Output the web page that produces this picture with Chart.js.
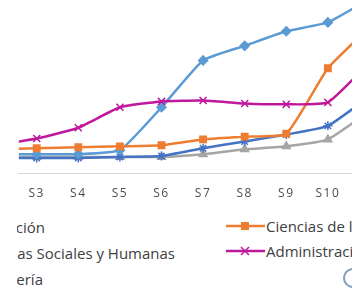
<!DOCTYPE html>
<html>
<head>
<meta charset="utf-8">
<script src="https://cdn.jsdelivr.net/npm/chart.js@4.4.1/dist/chart.umd.min.js"></script>
<style>
  html, body { margin:0; padding:0; background:#fff; }
  body { width:352px; height:293px; overflow:hidden; position:relative; font-family:"Open Sans", sans-serif; }
  #wrap { position:absolute; left:17px; top:0; width:335px; height:293px; overflow:hidden; }
  #cv { position:absolute; left:0; top:0; }
  .lg { position:absolute; font-size:15px; color:#404040; white-space:nowrap; line-height:18px; }
  .rt { text-align:right; }
  .mk { position:absolute; }
  #circ { position:absolute; left:326px; top:268px; width:16px; height:16px; border:2.5px solid #7f9cc0; border-radius:50%; }
</style>
</head>
<body>
<div id="wrap">
  <canvas id="cv" width="335" height="214"></canvas>
  <div class="lg rt" style="right:307px; top:218px;">Educación</div>
  <div class="lg rt" style="right:177px; top:244px;">Ciencias Sociales y Humanas</div>
  <div class="lg rt" style="right:309px; top:270px;">Ingeniería</div>
  <svg class="mk" style="left:208px; top:218px;" width="42" height="16">
    <line x1="1" y1="8" x2="40" y2="8" stroke="#ED7D31" stroke-width="2.5"/>
    <rect x="16" y="4" width="8" height="8" fill="#ED7D31"/>
  </svg>
  <div class="lg" style="left:249px; top:217px;">Ciencias de la Salud</div>
  <svg class="mk" style="left:208px; top:243px;" width="42" height="16">
    <line x1="1" y1="8" x2="40" y2="8" stroke="#C0189C" stroke-width="2.5"/>
    <line x1="16" y1="4" x2="24" y2="12" stroke="#C0189C" stroke-width="1.5"/>
    <line x1="16" y1="12" x2="24" y2="4" stroke="#C0189C" stroke-width="1.5"/>
  </svg>
  <div class="lg" style="left:249px; top:242px;">Administración</div>
  <div id="circ"></div>
</div>
<script>
const categories = ["S2","S3","S4","S5","S6","S7","S8","S9","S10","S11"];
const educacion  = [11.2, 11.2, 11.2, 13.5, 38.2, 65.2, 73.6, 82.0, 87.1, 100.6];
const salud      = [14.0, 14.6, 15.2, 15.7, 16.3, 19.7, 21.3, 23.0, 60.7, 84.3];
const ingenieria = [9.6, 9.6, 9.6, 9.6, 9.6, 11.2, 14.0, 15.7, 19.7, 36.0];
const sociales   = [9.0, 9.0, 9.0, 9.6, 10.1, 14.6, 18.5, 22.5, 27.5, 44.4];
const administracion = [16.3, 20.2, 26.4, 38.2, 41.6, 42.1, 40.4, 39.9, 41.0, 64.0];

const xIndex = categories.map(c => parseInt(c.slice(1), 10));
const pts = arr => arr.map((v, i) => ({ x: xIndex[i], y: v }));

function ds(label, data, color, style, radius, order) {
  return {
    label, data: pts(data), borderColor: color, backgroundColor: color,
    borderWidth: 2.5, pointStyle: style, pointRadius: radius, pointBorderWidth: 1.5,
    pointBorderColor: color, pointBackgroundColor: color, tension: 0.15, order
  };
}

const spacing = {
  id: 'spacing',
  beforeDraw(chart) { try { chart.ctx.letterSpacing = '1.5px'; } catch (e) {} }
};

new Chart(document.getElementById('cv'), {
  type: 'line',
  data: {
    datasets: [
      ds('Administración', administracion, '#C0189C', 'crossRot', 5, 1),
      ds('Ciencias de la Salud', salud, '#ED7D31', 'rect', 4.5, 2),
      ds('Educación', educacion, '#5B9BD5', 'rectRot', 4.5, 3),
      ds('Ciencias Sociales y Humanas', sociales, '#4472C4', 'star', 4.5, 4),
      ds('Ingeniería', ingenieria, '#A5A5A5', 'triangle', 4.5, 5)
    ]
  },
  plugins: [spacing],
  options: {
    responsive: false,
    animation: false,
    layout: { padding: 0, autoPadding: false },
    plugins: { legend: { display: false }, tooltip: { enabled: false } },
    scales: {
      x: {
        type: 'linear', min: 2.57, max: 10.58,
        afterBuildTicks: s => { s.ticks = [3,4,5,6,7,8,9,10].map(v => ({ value: v })); },
        ticks: {
          padding: 13, color: '#4d4d4d', font: { family: 'Open Sans', size: 12 },
          callback: v => 'S' + v
        },
        grid: { display: false, drawTicks: false },
        border: { display: true, color: '#D9D9D9', width: 1 }
      },
      y: { display: false, min: 0, max: 100 }
    }
  }
});
</script>
</body>
</html>
